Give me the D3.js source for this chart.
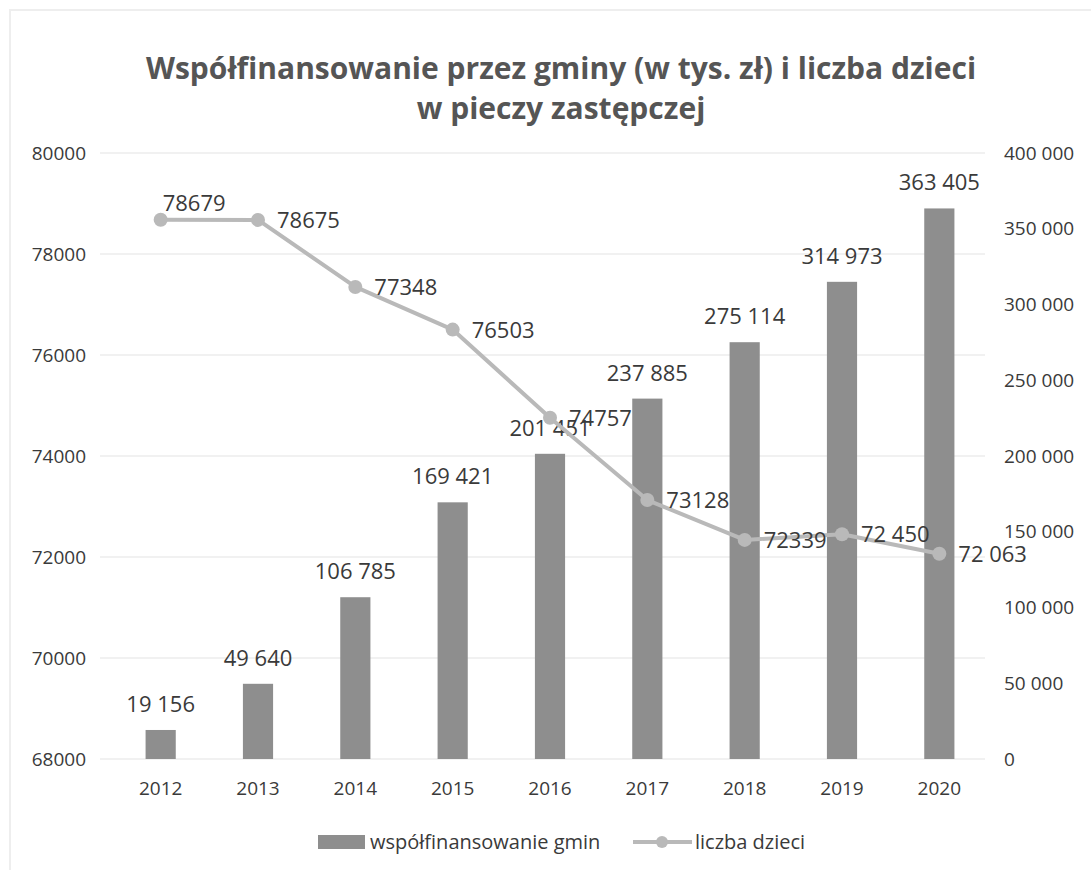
<!DOCTYPE html>
<html>
<head>
<meta charset="utf-8">
<script src="https://cdn.jsdelivr.net/npm/d3@7"></script>
<style>
  body { margin: 0; background: #fff; }
  text { font-family: "Open Sans", "Noto Sans", sans-serif; }
</style>
</head>
<body>
<div id="chart"></div>
<script>
const width = 1091;
const height = 870;

const years = ['2012', '2013', '2014', '2015', '2016', '2017', '2018', '2019', '2020'];
const funding = [19156, 49640, 106785, 169421, 201451, 237885, 275114, 314973, 363405];
const children = [78679, 78675, 77348, 76503, 74757, 73128, 72339, 72450, 72063];
const childrenLabels = ['78679', '78675', '77348', '76503', '74757', '73128', '72339', '72 450', '72 063'];
const leftTicks = [68000, 70000, 72000, 74000, 76000, 78000, 80000];
const rightTicks = [0, 50000, 100000, 150000, 200000, 250000, 300000, 350000, 400000];
const titleLines = ['Współfinansowanie przez gminy (w tys. zł) i liczba dzieci', 'w pieczy zastępczej'];
const legendNames = ['współfinansowanie gmin', 'liczba dzieci'];

const plot = { left: 112, right: 988, top: 153, bottom: 759 };
const barColor = '#8e8e8e';
const lineColor = '#b9b9b9';
const textColor = '#3a3a3a';

const spaceFmt = d => d3.format(',')(d).replace(/,/g, ' ');

const svg = d3.select('#chart').append('svg')
  .attr('width', width)
  .attr('height', height);

// faint chart border
svg.append('path')
  .attr('d', `M10,${height} V10 H${width}`)
  .attr('fill', 'none')
  .attr('stroke', '#eeeeee')
  .attr('stroke-width', 2);

const x = d3.scaleBand()
  .domain(years)
  .range([plot.left, plot.right])
  .paddingInner(0.69)
  .paddingOuter(0.345);

const yLeft = d3.scaleLinear()
  .domain([68000, 80000])
  .range([plot.bottom, plot.top]);

const yRight = d3.scaleLinear()
  .domain([0, 400000])
  .range([plot.bottom, plot.top]);

// title
svg.append('g').selectAll('text')
  .data(titleLines)
  .join('text')
    .attr('x', 561)
    .attr('y', (d, i) => 79 + i * 40)
    .attr('text-anchor', 'middle')
    .attr('font-size', 30)
    .attr('font-weight', 'bold')
    .attr('fill', '#555')
    .text(d => d);

// gridlines
svg.append('g').selectAll('line')
  .data(leftTicks)
  .join('line')
    .attr('x1', 100)
    .attr('x2', 985)
    .attr('y1', d => yLeft(d))
    .attr('y2', d => yLeft(d))
    .attr('stroke', '#ececec')
    .attr('stroke-width', 1.5);

const styleAxis = g => {
  g.select('.domain').remove();
  g.selectAll('text')
    .attr('font-size', 19)
    .attr('fill', textColor)
    .style('font-family', '"Open Sans", sans-serif');
};

// left axis
svg.append('g')
  .attr('transform', 'translate(86,0)')
  .call(d3.axisLeft(yLeft).tickValues(leftTicks).tickFormat(d3.format('d')).tickSize(0).tickPadding(0))
  .call(styleAxis);

// right axis
svg.append('g')
  .attr('transform', 'translate(1004,0)')
  .call(d3.axisRight(yRight).tickValues(rightTicks).tickFormat(spaceFmt).tickSize(0).tickPadding(0))
  .call(styleAxis);

// x axis
svg.append('g')
  .attr('transform', `translate(0,${plot.bottom})`)
  .call(d3.axisBottom(x).tickSize(0).tickPadding(23))
  .call(styleAxis);

// bars
svg.append('g').selectAll('rect')
  .data(funding)
  .join('rect')
    .attr('x', (d, i) => x(years[i]))
    .attr('y', d => yRight(d))
    .attr('width', x.bandwidth())
    .attr('height', d => yRight(0) - yRight(d))
    .attr('fill', barColor);

// bar labels
svg.append('g').selectAll('text')
  .data(funding)
  .join('text')
    .attr('x', (d, i) => x(years[i]) + x.bandwidth() / 2)
    .attr('y', d => yRight(d) - 18)
    .attr('text-anchor', 'middle')
    .attr('font-size', 22)
    .attr('fill', textColor)
    .text(spaceFmt);

// line
const cx = (d, i) => x(years[i]) + x.bandwidth() / 2;
const line = d3.line()
  .x(cx)
  .y(d => yLeft(d));

svg.append('path')
  .datum(children)
  .attr('d', line)
  .attr('fill', 'none')
  .attr('stroke', lineColor)
  .attr('stroke-width', 4)
  .attr('stroke-linejoin', 'round');

svg.append('g').selectAll('circle')
  .data(children)
  .join('circle')
    .attr('cx', cx)
    .attr('cy', d => yLeft(d))
    .attr('r', 7)
    .attr('fill', lineColor);

// line labels (first one sits above its point)
svg.append('g').selectAll('text')
  .data(children)
  .join('text')
    .attr('x', (d, i) => cx(d, i) + (i === 0 ? 2 : 19))
    .attr('y', (d, i) => yLeft(d) + (i === 0 ? -9 : 8))
    .attr('font-size', 22)
    .attr('fill', textColor)
    .text((d, i) => childrenLabels[i]);

// legend
const legend = svg.append('g').attr('transform', 'translate(0,842)');
legend.append('rect')
  .attr('x', 318)
  .attr('y', -7)
  .attr('width', 47)
  .attr('height', 14)
  .attr('fill', barColor);
legend.append('text')
  .attr('x', 370)
  .attr('y', 7)
  .attr('font-size', 20)
  .attr('fill', textColor)
  .text(legendNames[0]);
legend.append('line')
  .attr('x1', 633)
  .attr('x2', 692)
  .attr('y1', 0)
  .attr('y2', 0)
  .attr('stroke', lineColor)
  .attr('stroke-width', 4);
legend.append('circle')
  .attr('cx', 662)
  .attr('cy', 0)
  .attr('r', 6)
  .attr('fill', lineColor);
legend.append('text')
  .attr('x', 695)
  .attr('y', 7)
  .attr('font-size', 20)
  .attr('fill', textColor)
  .text(legendNames[1]);
</script>
</body>
</html>
